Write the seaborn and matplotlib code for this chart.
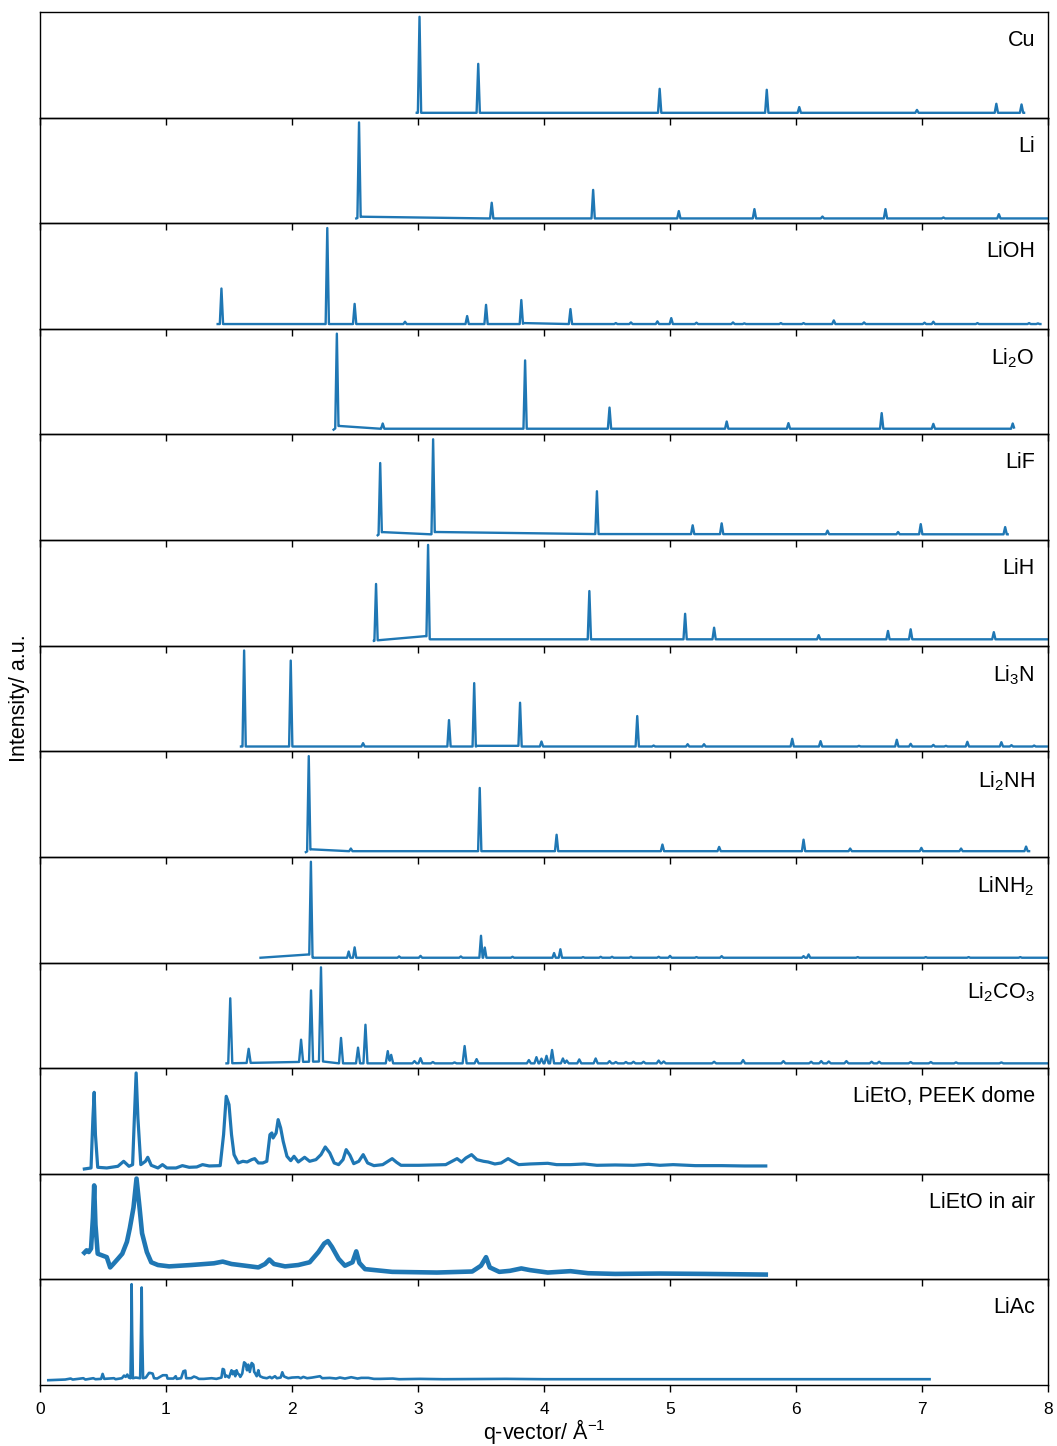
import numpy as np
import matplotlib
matplotlib.use("Agg")
import matplotlib.pyplot as plt
import seaborn as sns

plt.rcParams['font.family'] = ['Liberation Sans', 'DejaVu Sans']
plt.rcParams['mathtext.fontset'] = 'custom'
plt.rcParams['mathtext.rm'] = 'Liberation Sans'
plt.rcParams['mathtext.it'] = 'Liberation Sans:italic'
plt.rcParams['mathtext.bf'] = 'Liberation Sans:bold'

BLUE = '#1f77b4'

# ---------------- data ----------------
labels = ["Cu", "Li", "LiOH", "Li$_2$O", "LiF", "LiH", "Li$_3$N", "Li$_2$NH",
          "LiNH$_2$", "Li$_2$CO$_3$", "LiEtO, PEEK dome", "LiEtO in air", "LiAc"]

# simulated patterns: q range, baseline breakpoints, peak positions and heights
cu_range = [2.99, 7.81]
cu_base_q = [2.99, 7.81]
cu_base_i = [0.0, 0.0]
cu_peaks = [3.012, 3.478, 4.918, 5.768, 6.026, 6.96, 7.59, 7.79]
cu_heights = [1.0, 0.51, 0.25, 0.24, 0.06, 0.03, 0.094, 0.087]

li_range = [2.51, 8.0]
li_base_q = [2.51, 2.55, 3.55, 8.0]
li_base_i = [0.0, 0.018, 0.0, 0.0]
li_peaks = [2.532, 3.585, 4.39, 5.07, 5.67, 6.21, 6.71, 7.17, 7.61]
li_heights = [1.0, 0.165, 0.30, 0.077, 0.098, 0.02, 0.098, 0.01, 0.045]

lioh_range = [1.41, 7.94]
lioh_base_q = [1.41, 3.83, 3.84, 4.20, 7.94]
lioh_base_i = [0.0, 0.0, 0.01, 0.0, 0.0]
lioh_peaks = [1.44, 2.28, 2.497, 2.897, 3.39, 3.54, 3.82, 4.21, 4.57, 4.69, 4.90, 5.01,
              5.21, 5.50, 5.59, 5.88, 6.06, 6.30, 6.54, 7.02, 7.09, 7.44, 7.85, 7.92]
lioh_heights = [0.37, 1.0, 0.21, 0.024, 0.083, 0.2, 0.25, 0.156, 0.01, 0.017, 0.028, 0.062,
                0.014, 0.017, 0.007, 0.01, 0.01, 0.038, 0.017, 0.014, 0.024, 0.01, 0.01, 0.007]

li2o_range = [2.33, 7.73]
li2o_base_q = [2.33, 2.37, 2.70, 7.73]
li2o_base_i = [-0.01, 0.03, 0.0, 0.0]
li2o_peaks = [2.356, 2.72, 3.85, 4.52, 5.45, 5.94, 6.68, 7.09, 7.72]
li2o_heights = [1.0, 0.056, 0.73, 0.226, 0.077, 0.06, 0.167, 0.052, 0.056]

lif_range = [2.68, 7.68]
lif_base_q = [2.68, 2.715, 3.105, 3.135, 4.40, 7.68]
lif_base_i = [-0.01, 0.024, 0.0, 0.025, 0.003, 0.0]
lif_peaks = [2.70, 3.12, 4.42, 5.18, 5.41, 6.25, 6.81, 6.99, 7.66]
lif_heights = [0.75, 1.0, 0.456, 0.094, 0.115, 0.038, 0.024, 0.108, 0.077]

lih_range = [2.65, 8.0]
lih_base_q = [2.65, 2.685, 3.065, 3.095, 8.0]
lih_base_i = [-0.017, -0.01, 0.035, 0.0, 0.0]
lih_peaks = [2.667, 3.08, 4.36, 5.12, 5.35, 6.18, 6.73, 6.91, 7.57]
lih_heights = [0.61, 1.0, 0.52, 0.275, 0.125, 0.045, 0.09, 0.108, 0.077]

li3n_range = [1.595, 7.99]
li3n_base_q = [1.595, 3.46, 3.47, 3.80, 3.81, 7.99]
li3n_base_i = [0.0, 0.0, 0.007, 0.007, 0.0, 0.0]
li3n_peaks = [1.62, 1.99, 2.564, 3.246, 3.446, 3.81, 3.98, 4.74, 4.87, 5.14, 5.27, 5.97,
              6.195, 6.50, 6.80, 6.91, 7.09, 7.19, 7.36, 7.63, 7.71, 7.89]
li3n_heights = [1.0, 0.895, 0.035, 0.275, 0.66, 0.456, 0.052, 0.317, 0.01, 0.024, 0.024, 0.08,
                0.056, 0.007, 0.07, 0.028, 0.017, 0.007, 0.049, 0.045, 0.014, 0.01]

li2nh_range = [2.11, 7.85]
li2nh_base_q = [2.11, 2.15, 2.45, 7.85]
li2nh_base_i = [-0.01, 0.02, 0.0, 0.0]
li2nh_peaks = [2.133, 2.467, 3.49, 4.10, 4.94, 5.39, 6.06, 6.43, 6.995, 7.31, 7.826]
li2nh_heights = [1.0, 0.028, 0.67, 0.174, 0.07, 0.045, 0.122, 0.028, 0.035, 0.028, 0.049]

linh2_range = [1.75, 8.0]
linh2_base_q = [1.75, 2.135, 2.165, 8.0]
linh2_base_i = [0.0, 0.035, 0.0, 0.0]
linh2_peaks = [2.15, 2.45, 2.497, 2.85, 3.02, 3.34, 3.50, 3.53, 3.75, 4.08, 4.13, 4.31, 4.45,
               4.54, 4.69, 4.91, 5.00, 5.21, 5.41, 6.06, 6.10, 6.49, 7.03, 7.37, 7.78]
linh2_heights = [1.0, 0.066, 0.11, 0.014, 0.02, 0.014, 0.233, 0.108, 0.01, 0.05, 0.09, 0.007, 0.01,
                 0.01, 0.01, 0.01, 0.02, 0.007, 0.017, 0.017, 0.035, 0.007, 0.007, 0.007, 0.007]

li2co3_range = [1.48, 8.0]
li2co3_base_q = [1.48, 2.245, 2.37, 8.0]
li2co3_base_i = [0.0, 0.02, 0.0, 0.0]
li2co3_peaks = [1.51, 1.656, 2.072, 2.151, 2.23, 2.389, 2.524, 2.583, 2.76, 2.787, 2.972, 3.02,
                3.118, 3.29, 3.37, 3.465, 3.88, 3.94, 3.98, 4.02, 4.064, 4.15, 4.18, 4.28, 4.41,
                4.52, 4.57, 4.65, 4.71, 4.79, 4.91, 4.95, 5.35, 5.58, 5.90, 6.12, 6.20, 6.26,
                6.40, 6.60, 6.66, 6.91, 7.07, 7.27, 7.63]
li2co3_heights = [0.69, 0.15, 0.236, 0.757, 1.0, 0.27, 0.167, 0.41, 0.13, 0.09, 0.024, 0.055,
                  0.014, 0.01, 0.184, 0.045, 0.035, 0.066, 0.05, 0.08, 0.142, 0.052, 0.03, 0.042,
                  0.052, 0.024, 0.014, 0.014, 0.017, 0.017, 0.03, 0.02, 0.017, 0.035, 0.024,
                  0.017, 0.024, 0.02, 0.024, 0.017, 0.017, 0.014, 0.014, 0.01, 0.01]

# measured patterns: traced points (q, intensity a.u.)
lieto_peek_q = [0.352, 0.405, 0.42, 0.43, 0.44, 0.458, 0.53, 0.618, 0.664, 0.706, 0.735, 0.749,
                0.763, 0.777, 0.80, 0.837, 0.855, 0.883, 0.936, 0.972, 1.007, 1.08, 1.13, 1.184,
                1.244, 1.29, 1.343, 1.43, 1.457, 1.478, 1.50, 1.52, 1.54, 1.573, 1.61, 1.644,
                1.68, 1.704, 1.733, 1.768, 1.80, 1.825, 1.84, 1.85, 1.874, 1.89, 1.91, 1.93,
                1.96, 1.99, 2.016, 2.05, 2.10, 2.14, 2.19, 2.23, 2.264, 2.30, 2.335, 2.37, 2.405,
                2.43, 2.46, 2.49, 2.53, 2.565, 2.60, 2.65, 2.72, 2.795, 2.83, 2.865, 3.007, 3.22,
                3.27, 3.31, 3.345, 3.38, 3.425, 3.467, 3.52, 3.556, 3.61, 3.66, 3.715, 3.75, 3.80,
                3.89, 4.03, 4.10, 4.21, 4.32, 4.42, 4.565, 4.71, 4.83, 4.92, 5.025, 5.20, 5.41,
                5.59, 5.76]
lieto_peek_i = [0, 3, 153, 230, 103, 5, 3, 8, 23, 8, 13, 153,
                288, 153, 13, 23, 35, 11, 3, 13, 3, 3, 10, 5,
                6, 13, 9, 10, 103, 218, 193, 103, 43, 18, 23, 21,
                28, 31, 18, 18, 23, 103, 108, 93, 108, 148, 123, 83,
                38, 25, 38, 21, 35, 23, 28, 43, 66, 48, 18, 13, 28,
                58, 41, 16, 23, 43, 18, 10, 13, 31, 20, 11, 11, 13,
                23, 31, 21, 33, 43, 28, 23, 21, 15, 18, 31, 23, 13,
                15, 17, 13, 13, 15, 11, 12, 11, 14, 11, 13, 10, 10,
                9, 9]

lieto_air_q = [0.352, 0.37, 0.387, 0.405, 0.42, 0.43, 0.44, 0.458, 0.494, 0.53, 0.557, 0.582,
               0.618, 0.653, 0.69, 0.713, 0.742, 0.766, 0.79, 0.81, 0.848, 0.883, 0.936, 1.025,
               1.20, 1.38, 1.45, 1.52, 1.627, 1.733, 1.786, 1.82, 1.857, 1.945, 2.05, 2.14, 2.21,
               2.256, 2.285, 2.317, 2.37, 2.42, 2.48, 2.51, 2.535, 2.58, 2.795, 3.15, 3.43, 3.50,
               3.54, 3.57, 3.645, 3.73, 3.82, 3.89, 4.03, 4.21, 4.35, 4.565, 4.92, 5.27, 5.76]
lieto_air_i = [68, 75, 70, 80, 170, 265, 150, 65, 60, 55, 25, 35,
               50, 65, 100, 140, 200, 285, 200, 125, 70, 40, 32, 28,
               32, 37, 42, 35, 30, 25, 35, 48, 35, 28, 32, 40, 70,
               95, 102, 85, 50, 30, 40, 72, 38, 20, 12, 10, 13, 30,
               55, 25, 12, 15, 22, 17, 10, 14, 8, 6, 7, 6, 4]

liac_q = [0.066, 0.20, 0.243, 0.26, 0.344, 0.36, 0.423, 0.44, 0.485, 0.497, 0.51, 0.587, 0.60,
          0.65, 0.667, 0.68, 0.693, 0.705, 0.718, 0.724, 0.727, 0.731, 0.737, 0.76, 0.795, 0.801,
          0.807, 0.811, 0.818, 0.84, 0.865, 0.873, 0.894, 0.905, 0.93, 0.975, 0.984, 1.005,
          1.012, 1.06, 1.077, 1.085, 1.12, 1.138, 1.153, 1.16, 1.20, 1.222, 1.243, 1.26, 1.30,
          1.362, 1.40, 1.44, 1.45, 1.46, 1.47, 1.48, 1.50, 1.52, 1.53, 1.54, 1.55, 1.56, 1.57,
          1.58, 1.59, 1.605, 1.62, 1.632, 1.643, 1.653, 1.665, 1.68, 1.693, 1.70, 1.706, 1.72,
          1.733, 1.74, 1.746, 1.77, 1.80, 1.825, 1.84, 1.865, 1.88, 1.91, 1.923, 1.935, 1.944,
          1.97, 2.00, 2.05, 2.07, 2.09, 2.12, 2.16, 2.222, 2.24, 2.30, 2.35, 2.38, 2.42, 2.47,
          2.52, 2.55, 2.606, 2.65, 2.70, 2.80, 2.85, 3.016, 3.2, 3.7, 4.0, 5.0, 6.0, 7.06]
liac_i = [0, 2, 5, 2, 6, 2, 6, 3, 4, 19, 4, 6, 3,
          6, 14, 10, 17, 8, 6, 150, 290, 150, 6, 8, 6, 140,
          280, 140, 6, 8, 22, 22, 20, 6, 5, 15, 15, 15,
          5, 5, 12, 4, 6, 27, 29, 6, 6, 11, 8, 4, 4,
          6, 4, 8, 34, 32, 10, 14, 8, 30, 18, 27, 12, 30, 20,
          17, 10, 20, 54, 50, 30, 47, 25, 52, 47, 25, 22, 12,
          30, 18, 12, 8, 6, 10, 6, 12, 6, 8, 24, 12, 10,
          6, 8, 9, 6, 10, 6, 8, 12, 6, 7, 5, 8, 5, 9,
          5, 7, 7, 4, 4, 5, 3, 4, 3, 4, 3, 3, 3, 3]


def simulated_trace(qrange, base_q, base_i, peaks, heights, w=0.013):
    pk = np.asarray(peaks)
    xs = [qrange[0], qrange[1]] + list(base_q)
    for p in pk:
        xs += [p - w, p, p + w]
    xs = np.unique(np.clip(np.array(xs), qrange[0], qrange[1]))
    ys = np.interp(xs, base_q, base_i)
    for p, h in zip(pk, heights):
        ys = ys + h * np.clip(1 - np.abs(xs - p) / w, 0, None)
    return xs, ys


sim = [
    (cu_range, cu_base_q, cu_base_i, cu_peaks, cu_heights),
    (li_range, li_base_q, li_base_i, li_peaks, li_heights),
    (lioh_range, lioh_base_q, lioh_base_i, lioh_peaks, lioh_heights),
    (li2o_range, li2o_base_q, li2o_base_i, li2o_peaks, li2o_heights),
    (lif_range, lif_base_q, lif_base_i, lif_peaks, lif_heights),
    (lih_range, lih_base_q, lih_base_i, lih_peaks, lih_heights),
    (li3n_range, li3n_base_q, li3n_base_i, li3n_peaks, li3n_heights),
    (li2nh_range, li2nh_base_q, li2nh_base_i, li2nh_peaks, li2nh_heights),
    (linh2_range, linh2_base_q, linh2_base_i, linh2_peaks, linh2_heights),
    (li2co3_range, li2co3_base_q, li2co3_base_i, li2co3_peaks, li2co3_heights),
]

traces = []
for i, s in enumerate(sim):
    w = 0.016 if i == 9 else 0.013
    traces.append(simulated_trace(*s, w=w))
traces.append((np.array(lieto_peek_q), np.array(lieto_peek_i, float)))
traces.append((np.array(lieto_air_q), np.array(lieto_air_i, float)))
traces.append((np.array(liac_q), np.array(liac_i, float)))

widths = [1.7] * 10 + [2.3, 3.3, 1.9]

fig, axes = plt.subplots(13, 1, sharex=True, figsize=(10.57, 14.46), dpi=100)
fig.subplots_adjust(left=40 / 1057, right=1048 / 1057, top=1 - 12 / 1446,
                    bottom=1 - 1385 / 1446, hspace=0)

for ax, (x, y), lab, lw in zip(axes, traces, labels, widths):
    ax.set_facecolor('none')
    sns.lineplot(x=x, y=y, ax=ax, color=BLUE, linewidth=lw, estimator=None,
                 sort=False, errorbar=None)
    ax.set_yticks([])
    ax.set_ylabel('')
    ax.set_xlim(0, 8)
    ax.text(0.987, 0.83, lab, transform=ax.transAxes, ha='right', va='top',
            fontsize=15.5)
    ax.tick_params(axis='x', length=5, width=1, labelsize=12.5, pad=7.5)
    for sp in ax.spines.values():
        sp.set_linewidth(1.0)

axes[-1].set_xticks(range(0, 9))
axes[-1].set_xlabel('q-vector/ Å$^{-1}$', fontsize=15.5, labelpad=0)
fig.text(20 / 1057, 0.5 * ((1 - 12 / 1446) + (1 - 1385 / 1446)), 'Intensity/ a.u.',
         rotation=90, ha='center', va='center', fontsize=15.5)

fig.savefig('out.png', dpi=100)
